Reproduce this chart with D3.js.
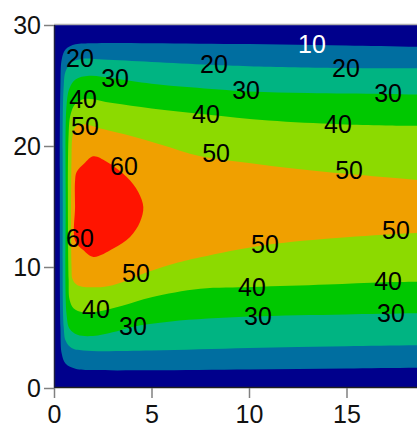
<!DOCTYPE html>
<html>
<head>
<meta charset="utf-8">
<script src="https://cdn.jsdelivr.net/npm/d3@7"></script>
<style>
  html, body { margin: 0; padding: 0; background: #fff; }
  svg { display: block; }
  text { font-family: "Liberation Sans", Arial, sans-serif; }
</style>
</head>
<body>
<div id="chart"></div>
<script>
// Filled contour map: each band is the region above a contour level.
const contourLevels = [10, 20, 30, 40, 50];
const bandColors = ["#00008c", "#006ea0", "#00b482", "#00c800", "#8cda00", "#f0a000", "#ff1400"];
const xTicks = [0, 5, 10, 15];
const yTicks = [0, 10, 20, 30];

// Contour lines as [x, y], running from the right edge along the upper branch,
// around the left end, and back along the lower branch.
const contour10 = [[20, 28.15], [15, 28.3], [10, 28.42], [5, 28.5], [2, 28.5], [1.1, 28.4], [0.6, 28.0], [0.4, 27.2], [0.33, 25], [0.3, 15], [0.33, 5], [0.4, 2.8], [0.6, 2.0], [1.1, 1.6], [2, 1.48], [5, 1.46], [10, 1.52], [15, 1.62], [20, 1.7]];
const contour20 = [[20, 26.42], [15, 26.45], [10, 26.6], [8, 26.72], [5, 26.95], [2.5, 27.15], [1.4, 27.2], [0.9, 26.9], [0.6, 26.2], [0.5, 25], [0.45, 15], [0.5, 5], [0.6, 3.9], [0.9, 3.3], [1.5, 3.1], [5, 3.1], [10, 3.3], [15, 3.45], [20, 3.55]];
const contour30 = [[20, 24.2], [17, 24.3], [13, 24.38], [10, 24.5], [7, 24.85], [5, 25.15], [3, 25.6], [1.8, 25.8], [1.1, 25.5], [0.8, 24.8], [0.65, 23.5], [0.6, 15], [0.65, 6], [0.8, 4.9], [1.2, 4.4], [2, 4.3], [3, 4.6], [4, 5.05], [6, 5.5], [10, 5.9], [15, 6.08], [20, 6.2]];
const contour40 = [[20, 21.65], [17, 21.7], [14.6, 21.8], [11, 22.1], [7.8, 22.6], [5, 23.1], [3, 23.55], [1.6, 23.9], [1.1, 23.5], [0.85, 22.6], [0.75, 21], [0.75, 9], [0.8, 7.3], [1.0, 6.6], [1.5, 6.25], [2.2, 6.3], [3.5, 6.8], [5, 7.5], [7.5, 8.2], [10.2, 8.35], [14, 8.55], [17, 8.75], [20, 8.8]];
const contour50 = [[20, 17.05], [18.6, 17.2], [15, 17.7], [12.5, 18.1], [10, 18.6], [7.5, 19.15], [5.5, 20.1], [4, 20.8], [2.5, 21.4], [1.5, 21.8], [1.1, 21.6], [0.95, 20.8], [0.9, 19], [0.9, 10], [0.95, 9.0], [1.2, 8.5], [2.5, 8.35], [3.5, 8.75], [4.5, 9.4], [6, 10.2], [7.5, 10.8], [10.8, 11.8], [15, 12.45], [18.6, 12.8], [20, 12.9]];
// Closed contour around the peak (level 60).
const peakLevel = 60;
const contour60 = [[2.02, 19.15], [2.7, 18.7], [3.73, 17.44], [4.32, 16.2], [4.58, 14.96], [4.41, 13.72], [3.9, 12.48], [3.04, 11.52], [2.02, 10.83], [1.5, 11.4], [1.08, 12.2], [1.08, 15.0], [1.08, 17.1], [1.16, 17.85], [1.55, 18.55]];

// Contour labels: level, x, y.
const labelLevel = [10, 20, 20, 20, 30, 30, 30, 40, 40, 40, 50, 50, 50, 60, 60, 50, 50, 50, 40, 30, 40, 40, 30, 30];
const labelX = [13.23, 1.33, 8.2, 14.97, 3.13, 9.85, 17.13, 1.49, 7.79, 14.56, 1.59, 8.31, 15.13, 3.59, 1.33, 10.82, 17.54, 4.2, 2.15, 4.05, 10.15, 17.13, 10.46, 17.28];
const labelY = [28.47, 27.25, 26.75, 26.42, 25.6, 24.6, 24.36, 23.86, 22.62, 21.8, 21.63, 19.4, 17.99, 18.32, 12.37, 11.88, 13.03, 9.48, 6.5, 5.1, 8.32, 8.82, 5.93, 6.17];

const W = 417, H = 429;
const x = d3.scaleLinear().domain([0, 20]).range([54, 444]);
const y = d3.scaleLinear().domain([0, 30]).range([388, 25]);

const svg = d3.select("#chart").append("svg").attr("width", W).attr("height", H);

svg.append("clipPath").attr("id", "plot-clip")
  .append("rect")
  .attr("x", x(0)).attr("y", y(30))
  .attr("width", x(20) - x(0)).attr("height", y(0) - y(30));

const plot = svg.append("g").attr("clip-path", "url(#plot-clip)");

// Lowest band fills the whole plot.
plot.append("rect")
  .attr("x", x(0)).attr("y", y(30))
  .attr("width", x(20) - x(0)).attr("height", y(0) - y(30))
  .attr("fill", bandColors[0]);

const openLine = d3.line().x(d => x(d[0])).y(d => y(d[1])).curve(d3.curveCatmullRom.alpha(0.5));
const closedLine = d3.line().x(d => x(d[0])).y(d => y(d[1])).curve(d3.curveCatmullRomClosed.alpha(0.5));

const contourLines = [contour10, contour20, contour30, contour40, contour50];
contourLines.forEach((pts, i) => {
  plot.append("path")
    .attr("d", openLine(pts) + "Z")
    .attr("fill", bandColors[i + 1]);
});
plot.append("path")
  .attr("d", closedLine(contour60))
  .attr("fill", bandColors[6]);

// Contour labels
const labelData = labelLevel.map((v, i) => ({ v, x: labelX[i], y: labelY[i] }));
plot.selectAll("text.clabel").data(labelData).enter().append("text")
  .attr("class", "clabel")
  .attr("x", d => x(d.x))
  .attr("y", d => y(d.y))
  .attr("dy", "0.36em")
  .attr("text-anchor", "middle")
  .attr("font-size", 25)
  .attr("fill", d => d.v <= 10 ? "#ffffff" : "#000000")
  .text(d => d.v);

// Frame
svg.append("line").attr("x1", x(0)).attr("x2", W).attr("y1", y(30) - 0.5).attr("y2", y(30) - 0.5)
  .attr("stroke", "#b0b0b0").attr("stroke-width", 1.5);
svg.append("line").attr("x1", x(0)).attr("x2", W).attr("y1", y(0) - 0.5).attr("y2", y(0) - 0.5)
  .attr("stroke", "#202020").attr("stroke-width", 1.5);
svg.append("line").attr("x1", x(0) + 0.5).attr("x2", x(0) + 0.5).attr("y1", y(30)).attr("y2", y(0))
  .attr("stroke", "#202040").attr("stroke-width", 1.5);

// Axes
const xAxis = d3.axisBottom(x).tickValues(xTicks).tickSize(10).tickPadding(7).tickFormat(d3.format("d"));
const yAxis = d3.axisLeft(y).tickValues(yTicks).tickSize(10).tickPadding(3).tickFormat(d3.format("d"));

const gx = svg.append("g").attr("transform", `translate(0,${y(0)})`).call(xAxis);
const gy = svg.append("g").attr("transform", `translate(${x(0)},0)`).call(yAxis);
[gx, gy].forEach(g => {
  g.select(".domain").remove();
  g.selectAll(".tick line").attr("stroke", "#808080").attr("stroke-width", 1.5);
  g.selectAll(".tick text").attr("font-size", 25).attr("fill", "#111")
    .attr("font-family", "\"Liberation Sans\", Arial, sans-serif");
});
</script>
</body>
</html>
